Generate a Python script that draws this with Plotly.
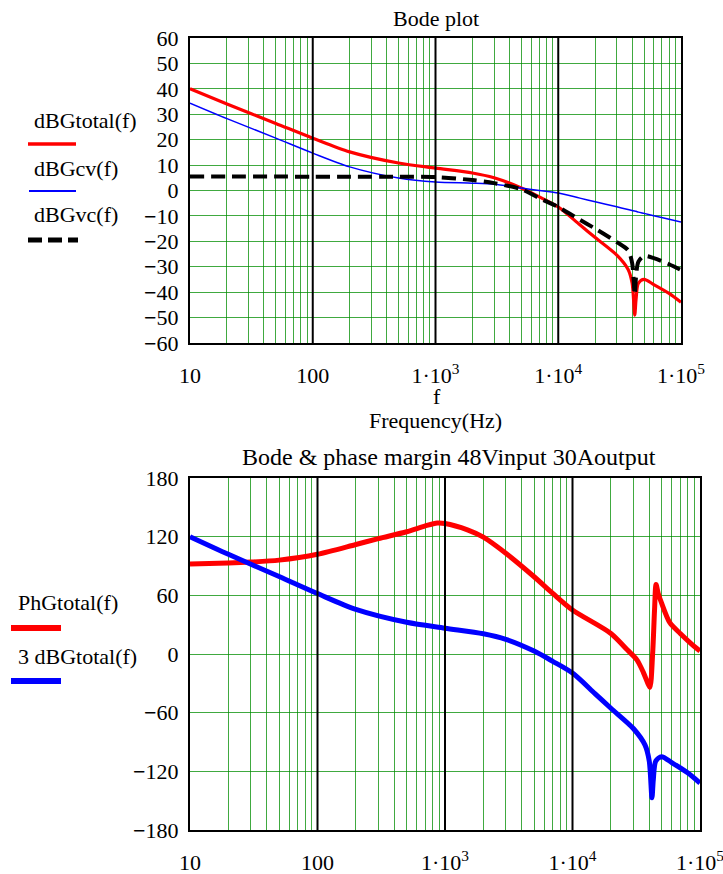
import plotly.graph_objects as go

# ---------------- data ----------------
freq = [10, 20, 50, 100, 200, 500, 1000, 2000, 3000, 5000, 7000, 10000, 15000, 20000,
        30000, 37000, 40000, 42000, 43000, 45000, 50000, 60000, 80000, 100000]
dBGtotal = [40, 34, 26.4, 20.6, 15.2, 10.8, 8.8, 6.9, 5, 1, -2.5, -6.5, -13.5, -18.5,
            -25.4, -31, -36.5, -49, -43, -36.5, -35, -37, -40.5, -44]
dBGcv = [34.4, 28.3, 20.6, 14.7, 9.3, 4.9, 3.3, 2.9, 2.5, 1, 0, -1, -3, -4.4,
         -6.4, -7.5, -7.9, -8.1, -8.2, -8.5, -9, -9.9, -11.3, -12.4]
dBGvc = [5.5, 5.5, 5.5, 5.4, 5.4, 5.4, 5.3, 4.1, 2.9, 0.5, -3, -6.5, -11.5, -15,
         -20.3, -23.5, -28.6, -41, -34, -28, -25.8, -26.6, -29, -31.3]

freq_ph = [10, 20, 30, 50, 100, 200, 300, 500, 700, 870, 1000, 1500, 2000, 3000, 5000,
           7000, 10000, 20000, 27000, 32000, 36000, 39000, 40500, 42500, 44000, 45200,
           47000, 50000, 58000, 70000, 83000, 100000]
PhGtotal = [92, 93, 94, 96, 102, 112, 118, 125, 131, 134, 133.5, 127, 119.5, 103, 79,
            62, 45, 21, 4, -6, -19, -30, -34, 0, 45, 71,
            62, 52, 32, 21, 12, 3]
dBGtotal_x3 = [3 * v for v in dBGtotal]

x_tick_text = ["10", "100", "1·10<sup>3</sup>", "1·10<sup>4</sup>", "1·10<sup>5</sup>"]
y1_ticks = list(range(-60, 61, 10))
y2_ticks = list(range(-180, 181, 60))

# ---------------- styling ----------------
FONT = "Liberation Serif, Times New Roman, serif"
GRID = "rgba(0,140,0,0.75)"
W, H = 723, 874
FS = 22

def fmt(v):
    return ("<b>−</b>" + str(-v)) if v < 0 else str(v)

decades = [10, 100, 1000, 10000, 100000]
xvals, xtext = [], []
for i, d in enumerate(decades[:-1]):
    for m in range(1, 10):
        xvals.append(m * d)
        xtext.append(x_tick_text[i] if m == 1 else "")
xvals.append(100000)
xtext.append(x_tick_text[-1])

SPL = dict(shape="spline", smoothing=0.8)
fig = go.Figure()
fig.add_trace(go.Scatter(x=freq, y=dBGtotal, mode="lines", line=dict(color="#ff0000", width=3.2, **SPL),
                         xaxis="x", yaxis="y", showlegend=False))
fig.add_trace(go.Scatter(x=freq, y=dBGcv, mode="lines", line=dict(color="#0000ff", width=1.5, **SPL),
                         xaxis="x", yaxis="y", showlegend=False))
fig.add_trace(go.Scatter(x=freq, y=dBGvc, mode="lines",
                         line=dict(color="black", width=4, dash="14px,7px", **SPL),
                         xaxis="x", yaxis="y", showlegend=False))
fig.add_trace(go.Scatter(x=freq_ph, y=PhGtotal, mode="lines", line=dict(color="#ff0000", width=5, **SPL),
                         xaxis="x2", yaxis="y2", showlegend=False))
fig.add_trace(go.Scatter(x=freq, y=dBGtotal_x3, mode="lines", line=dict(color="#0000ff", width=5, **SPL),
                         xaxis="x2", yaxis="y2", showlegend=False))

def xaxis(domain, anchor):
    return dict(type="log", range=[1, 5], domain=domain, anchor=anchor, automargin=False,
                tickvals=xvals, ticktext=xtext, ticks="", ticklabelstandoff=12,
                ticklabeloverflow="allow",
                showgrid=True, gridcolor=GRID, gridwidth=1,
                showline=True, linecolor="black", linewidth=2, mirror=True,
                zeroline=False, tickfont=dict(family=FONT, size=FS, color="black"))

def yaxis(domain, anchor, rng, ticks):
    return dict(range=rng, domain=domain, anchor=anchor, automargin=False,
                tickvals=ticks, ticktext=[fmt(v) for v in ticks], ticks="",
                ticklabelstandoff=5,
                showgrid=True, gridcolor=GRID, gridwidth=1,
                showline=True, linecolor="black", linewidth=2, mirror=True,
                zeroline=False, tickfont=dict(family=FONT, size=FS, color="black"))

x1d = [190 / W, 681 / W]
y1d = [1 - 343 / H, 1 - 38 / H]
x2d = [190 / W, 700 / W]
y2d = [1 - 830 / H, 1 - 478 / H]

fig.update_layout(
    width=W, height=H, margin=dict(l=0, r=0, t=0, b=0, autoexpand=False),
    paper_bgcolor="white", plot_bgcolor="white",
    font=dict(family=FONT, size=FS, color="black"),
    xaxis=xaxis(x1d, "y"), yaxis=yaxis(y1d, "x", [-60, 60], y1_ticks),
    xaxis2=xaxis(x2d, "y2"), yaxis2=yaxis(y2d, "x2", [-180, 180], y2_ticks),
)

shapes = []
for xr, yr in (("x", "y domain"), ("x2", "y2 domain")):
    for d in (100, 1000, 10000):
        shapes.append(dict(type="line", xref=xr, yref=yr, x0=d, x1=d, y0=0, y1=1,
                           line=dict(color="black", width=2), layer="above"))

def px(x, y):
    return x / W, 1 - y / H

# legend samples
for (x0, x1, y, col, wd, dash) in [
        (28, 76, 144, "#ff0000", 3.5, "solid"),
        (29, 76, 191, "#0000ff", 2, "solid"),
        (28, 78, 240, "black", 5, "14px,6px"),
        (11, 61, 628, "#ff0000", 6, "solid"),
        (11, 61, 681, "#0000ff", 6, "solid")]:
    a, b = px(x0, y)
    c, _ = px(x1, y)
    shapes.append(dict(type="line", xref="paper", yref="paper", x0=a, x1=c, y0=b, y1=b,
                       line=dict(color=col, width=wd, dash=dash)))
fig.update_layout(shapes=shapes)

ann = []
def text(t, x, y, xanchor="center", size=FS):
    a, b = px(x, y)
    ann.append(dict(text=t, x=a, y=b, xref="paper", yref="paper", showarrow=False,
                    xanchor=xanchor, yanchor="middle", font=dict(family=FONT, size=size, color="black")))

text("Bode plot", 436, 19, size=22)
text("f", 437, 397)
text("Frequency(Hz)", 435, 420)
text("Bode & phase margin 48Vinput 30Aoutput", 449, 457, size=24)
text("dBGtotal(f)", 32, 120, "left")
text("dBGcv(f)", 32, 168, "left")
text("dBGvc(f)", 32, 214, "left")
text("PhGtotal(f)", 16, 602, "left")
text("3 dBGtotal(f)", 16, 656, "left")
fig.update_layout(annotations=ann)

fig.write_html("out.html", config={"displayModeBar": False},
               post_script="document.body.style.margin='0';document.body.style.overflow='hidden';")
